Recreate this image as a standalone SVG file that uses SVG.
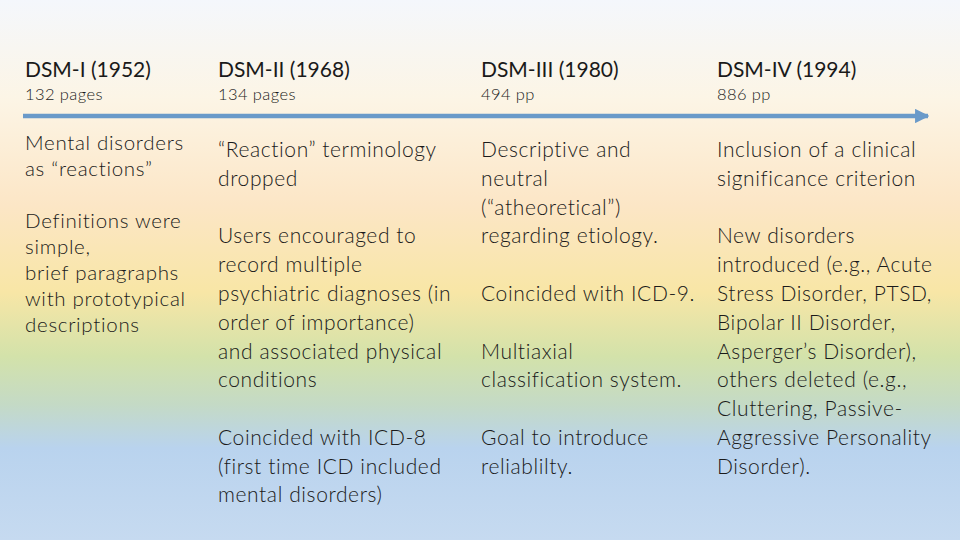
<svg xmlns="http://www.w3.org/2000/svg" width="960" height="540" viewBox="0 0 960 540">
<defs>
<linearGradient id="bg" x1="0" y1="0" x2="0" y2="1">
<stop offset="0" stop-color="#f4f7fc"/>
<stop offset="0.18" stop-color="#fcf5e6"/>
<stop offset="0.38" stop-color="#fce6c6"/>
<stop offset="0.54" stop-color="#f8e6a6"/>
<stop offset="0.66" stop-color="#d3e2aa"/>
<stop offset="0.75" stop-color="#c4dac6"/>
<stop offset="0.83" stop-color="#b9d3ee"/>
<stop offset="1" stop-color="#c6daf0"/>
</linearGradient>
<marker id="ah" viewBox="0 0 10 10" refX="9" refY="5" markerWidth="3.2" markerHeight="3.2" orient="auto" markerUnits="strokeWidth">
<path d="M0,0 L10,5 L0,10 z" fill="#6a9ac9"/>
</marker>
<style>
text{font-family:Lato,"Open Sans","Liberation Sans",sans-serif;fill:#1a1a1a}
.h{font-size:21px;font-weight:400}
.p{font-size:16.5px;font-weight:300;letter-spacing:0.4px}
.b{font-size:21px;font-weight:300;letter-spacing:0.6px}
.s{font-size:20.5px;font-weight:300;letter-spacing:0.7px}
</style>
</defs>
<rect width="960" height="540" fill="url(#bg)"/>
<g id="connectors">
<line x1="23" y1="116" x2="928" y2="116" stroke="#6a9ac9" stroke-width="4.5" marker-end="url(#ah)"/>
</g>
<g id="dsm1">
<text class="h" x="25" y="77">DSM-I (1952)</text>
<text class="p" x="25" y="100">132 pages</text>
<text class="s" x="25"><tspan x="25" y="150">Mental disorders</tspan><tspan x="25" y="176">as “reactions”</tspan></text>
<text class="s"><tspan x="25" y="228">Definitions were</tspan><tspan x="25" y="254">simple,</tspan><tspan x="25" y="280">brief paragraphs</tspan><tspan x="25" y="306">with prototypical</tspan><tspan x="25" y="332">descriptions</tspan></text>
</g>
<g id="dsm2">
<text class="h" x="218" y="77">DSM-II (1968)</text>
<text class="p" x="218" y="100">134 pages</text>
<text class="b"><tspan x="218" y="157">“Reaction” terminology</tspan><tspan x="218" y="186">dropped</tspan></text>
<text class="b"><tspan x="218" y="243">Users encouraged to</tspan><tspan x="218" y="272">record multiple</tspan><tspan x="218" y="301">psychiatric diagnoses (in</tspan><tspan x="218" y="330">order of importance)</tspan><tspan x="218" y="359">and associated physical</tspan><tspan x="218" y="387">conditions</tspan></text>
<text class="b"><tspan x="218" y="445">Coincided with ICD-8</tspan><tspan x="218" y="474">(first time ICD included</tspan><tspan x="218" y="502">mental disorders)</tspan></text>
</g>
<g id="dsm3">
<text class="h" x="481" y="77">DSM-III (1980)</text>
<text class="p" x="481" y="100">494 pp</text>
<text class="b"><tspan x="481" y="157">Descriptive and</tspan><tspan x="481" y="186">neutral</tspan><tspan x="481" y="215">(“atheoretical”)</tspan><tspan x="481" y="243">regarding etiology.</tspan></text>
<text class="b" x="481" y="301">Coincided with ICD-9.</text>
<text class="b"><tspan x="481" y="359">Multiaxial</tspan><tspan x="481" y="387">classification system.</tspan></text>
<text class="b"><tspan x="481" y="445">Goal to introduce</tspan><tspan x="481" y="474">reliablilty.</tspan></text>
</g>
<g id="dsm4">
<text class="h" x="717" y="77">DSM-IV (1994)</text>
<text class="p" x="717" y="100">886 pp</text>
<text class="b"><tspan x="717" y="157">Inclusion of a clinical</tspan><tspan x="717" y="186">significance criterion</tspan></text>
<text class="b"><tspan x="717" y="243">New disorders</tspan><tspan x="717" y="272">introduced (e.g., Acute</tspan><tspan x="717" y="301">Stress Disorder, PTSD,</tspan><tspan x="717" y="330">Bipolar II Disorder,</tspan><tspan x="717" y="359">Asperger’s Disorder),</tspan><tspan x="717" y="387">others deleted (e.g.,</tspan><tspan x="717" y="416">Cluttering, Passive-</tspan><tspan x="717" y="445">Aggressive Personality</tspan><tspan x="717" y="474">Disorder).</tspan></text>
</g>
</svg>
